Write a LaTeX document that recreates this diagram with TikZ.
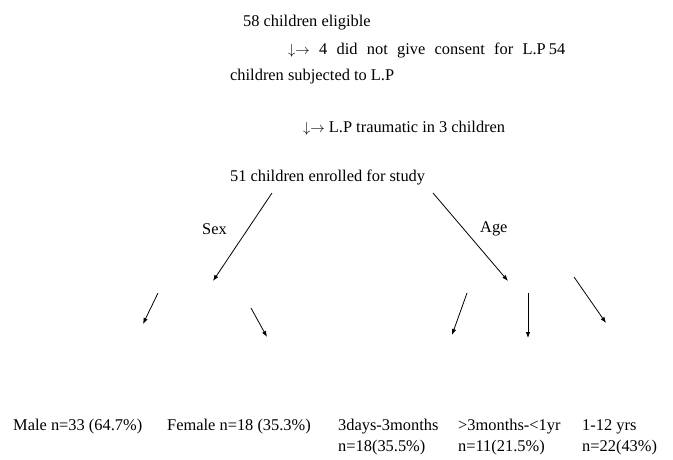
\documentclass[tikz,border=0pt]{standalone}
\usepackage{fontspec}
\setmainfont{Liberation Serif}
\newcommand{\dnright}{{\fontsize{14}{16}\selectfont\(\downarrow\rightarrow\)}}
\usetikzlibrary{arrows.meta}
\begin{document}
\begin{tikzpicture}[x=1pt,y=-1pt,
  lbl/.style={anchor=west,inner sep=0pt,font=\fontsize{16.4}{19}\selectfont},
  arr/.style={line width=0.8pt,-{Latex[length=6pt,width=4.5pt]}}]
\useasboundingbox (0,0) rectangle (673,459);
\node[lbl] (elig) at (243,23) {58 children eligible};
\node[lbl] (consent) at (288,50) {\makebox[277pt][s]{\dnright{} 4 did not give consent for L.P\kern3pt 54}};
\node[lbl] (subj) at (230,77) {children subjected to L.P};
\node[lbl] (trauma) at (303,128) {\dnright{} L.P traumatic in 3 children};
\node[lbl] (enrol) at (230,177) {51 children enrolled for study};
\node[lbl] (sex) at (202,229) {Sex};
\node[lbl] (age) at (480,229) {Age};
\node[lbl] (male) at (13,427) {Male n=33 (64.7\%)};
\node[lbl] (female) at (167,427) {Female n=18 (35.3\%)};
\node[lbl] (a1) at (338,427) {3days-3months};
\node[lbl] (a2) at (458,427) {>3months-<1yr};
\node[lbl] (a3) at (582,427) {1-12 yrs};
\node[lbl] (n1) at (338,448) {n=18(35.5\%)};
\node[lbl] (n2) at (458,448) {n=11(21.5\%)};
\node[lbl] (n3) at (582,448) {n=22(43\%)};
\coordinate (sexS) at (272,193);
\coordinate (sexE) at (213,281);
\coordinate (ageS) at (433,193);
\coordinate (ageE) at (508,281);
\coordinate (mS) at (158,293);
\coordinate (mE) at (143,324);
\coordinate (fS) at (251,308);
\coordinate (fE) at (267,337);
\coordinate (b1S) at (467,293);
\coordinate (b1E) at (452,335);
\coordinate (b2S) at (528,293);
\coordinate (b2E) at (528,338);
\coordinate (b3S) at (574,277);
\coordinate (b3E) at (606,323);
\draw[arr] (sexS) -- (sexE);
\draw[arr] (ageS) -- (ageE);
\draw[arr] (mS) -- (mE);
\draw[arr] (fS) -- (fE);
\draw[arr] (b1S) -- (b1E);
\draw[arr] (b2S) -- (b2E);
\draw[arr] (b3S) -- (b3E);
\end{tikzpicture}
\end{document}
